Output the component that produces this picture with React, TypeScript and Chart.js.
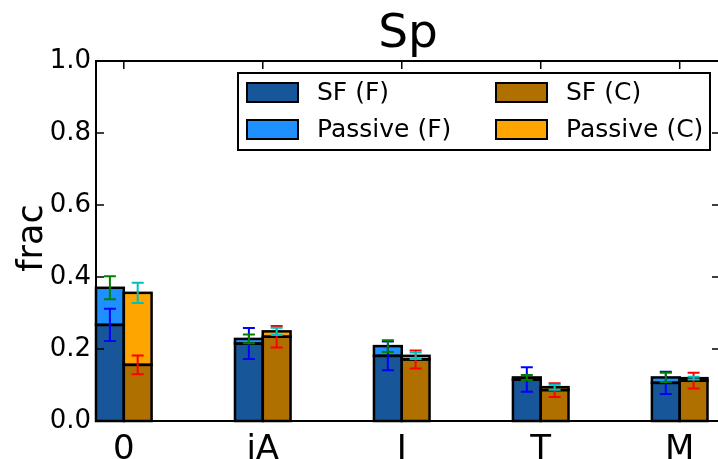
import { useEffect, useRef } from 'react';
import { Chart, registerables } from 'chart.js';

Chart.register(...registerables);

// Categories along the x axis
const categories = ['0', 'iA', 'I', 'T', 'M'];

// Stacked fractions: star-forming part and passive part, field (F) and cluster (C)
const sfF = [0.267, 0.215, 0.181, 0.115, 0.106];
const passiveF = [0.103, 0.013, 0.027, 0.006, 0.015];
const sfC = [0.156, 0.234, 0.171, 0.086, 0.112];
const passiveC = [0.2, 0.015, 0.01, 0.008, 0.007];

// Uncertainties on the SF fraction and on the total (SF + passive) fraction
const sfFErr = [0.045, 0.043, 0.04, 0.034, 0.031];
const totFErr = [0.032, 0.012, 0.016, 0.007, 0.013];
const sfCErr = [0.026, 0.03, 0.025, 0.019, 0.022];
const totCErr = [0.028, 0.01, 0.009, 0.007, 0.004];

const yTicks = [0, 0.2, 0.4, 0.6, 0.8, 1.0];

const COL_SF_F = '#175699';
const COL_PAS_F = '#1e90ff';
const COL_SF_C = '#b07000';
const COL_PAS_C = '#ffa500';

const FONT = '"DejaVu Sans", sans-serif';
const BAR_OFFSET = 0.1;

const framePlugin = {
  id: 'frame',
  afterDatasetsDraw(chart: any) {
    const ctx = chart.ctx as CanvasRenderingContext2D;
    const xs = chart.scales.x;
    const ys = chart.scales.y;

    // black outlines centred on each bar's edges
    ctx.save();
    ctx.strokeStyle = '#000';
    ctx.lineWidth = 2.5;
    chart.data.datasets.forEach((_: any, di: number) => {
      const meta = chart.getDatasetMeta(di);
      meta.data.forEach((bar: any) => {
        const { x, y, base, width } = bar.getProps(['x', 'y', 'base', 'width'], true);
        const top = Math.min(y, base);
        const h = Math.abs(base - y);
        ctx.strokeRect(x - width / 2, top, width, h);
      });
    });
    ctx.restore();

    const cap = 6;
    const drawErr = (xv: number, yv: number, err: number, color: string) => {
      const px = xs.getPixelForValue(xv);
      const y0 = ys.getPixelForValue(yv - err);
      const y1 = ys.getPixelForValue(yv + err);
      ctx.save();
      ctx.strokeStyle = color;
      ctx.lineWidth = 2;
      ctx.beginPath();
      ctx.moveTo(px, y0);
      ctx.lineTo(px, y1);
      ctx.moveTo(px - cap, y0);
      ctx.lineTo(px + cap, y0);
      ctx.moveTo(px - cap, y1);
      ctx.lineTo(px + cap, y1);
      ctx.stroke();
      ctx.restore();
    };
    categories.forEach((_, i) => {
      drawErr(i - BAR_OFFSET, sfF[i], sfFErr[i], '#0000ff');
      drawErr(i - BAR_OFFSET, sfF[i] + passiveF[i], totFErr[i], '#008000');
      drawErr(i + BAR_OFFSET, sfC[i], sfCErr[i], '#ff0000');
      drawErr(i + BAR_OFFSET, sfC[i] + passiveC[i], totCErr[i], '#00bfbf');
    });
  },
  afterDraw(chart: any) {
    const ctx = chart.ctx as CanvasRenderingContext2D;
    const a = chart.chartArea;
    const xs = chart.scales.x;
    const ys = chart.scales.y;
    ctx.save();
    // frame
    ctx.strokeStyle = '#000';
    ctx.lineWidth = 2;
    ctx.strokeRect(a.left, a.top, a.right - a.left, a.bottom - a.top);
    // inward ticks on all four sides
    const tl = 8;
    ctx.lineWidth = 1.5;
    ctx.beginPath();
    yTicks.forEach((v) => {
      const py = ys.getPixelForValue(v);
      ctx.moveTo(a.left, py);
      ctx.lineTo(a.left + tl, py);
      ctx.moveTo(a.right, py);
      ctx.lineTo(a.right - tl, py);
    });
    categories.forEach((_, i) => {
      const px = xs.getPixelForValue(i);
      ctx.moveTo(px, a.top);
      ctx.lineTo(px, a.top + tl);
      ctx.moveTo(px, a.bottom);
      ctx.lineTo(px, a.bottom - tl);
    });
    ctx.stroke();

    // title
    ctx.fillStyle = '#000';
    ctx.font = `47px ${FONT}`;
    ctx.textAlign = 'center';
    ctx.textBaseline = 'alphabetic';
    ctx.fillText('Sp', (a.left + a.right) / 2, 47);

    // y axis label
    ctx.save();
    ctx.translate(42, (a.top + a.bottom) / 2 - 3);
    ctx.rotate(-Math.PI / 2);
    ctx.font = `35px ${FONT}`;
    ctx.textAlign = 'center';
    ctx.textBaseline = 'alphabetic';
    ctx.fillText('frac', 0, 0);
    ctx.restore();

    // legend
    const lx = 238, ly = 73, lw = 472, lh = 77;
    ctx.fillStyle = '#fff';
    ctx.fillRect(lx, ly, lw, lh);
    ctx.lineWidth = 2;
    ctx.strokeStyle = '#000';
    ctx.strokeRect(lx, ly, lw, lh);
    const entries = [
      { label: 'SF (F)', color: COL_SF_F, x: 247, y: 83 },
      { label: 'Passive (F)', color: COL_PAS_F, x: 247, y: 120 },
      { label: 'SF (C)', color: COL_SF_C, x: 496, y: 83 },
      { label: 'Passive (C)', color: COL_PAS_C, x: 496, y: 120 },
    ];
    ctx.font = `25px ${FONT}`;
    ctx.textAlign = 'left';
    ctx.textBaseline = 'middle';
    entries.forEach((e) => {
      ctx.fillStyle = e.color;
      ctx.fillRect(e.x, e.y, 51, 19);
      ctx.strokeStyle = '#000';
      ctx.lineWidth = 2;
      ctx.strokeRect(e.x, e.y, 51, 19);
      ctx.fillStyle = '#000';
      ctx.fillText(e.label, e.x + 70, e.y + 10);
    });
    ctx.restore();
  },
};

export default function App() {
  const ref = useRef<HTMLCanvasElement | null>(null);

  useEffect(() => {
    if (!ref.current) return;
    const mk = (vals: number[]) => vals.map((v, i) => ({ x: i, y: v }));
    const common = {
      borderWidth: 0,
      inflateAmount: 0,
      categoryPercentage: 0.4,
      barPercentage: 1.0,
    };
    const chart = new Chart(ref.current, {
      type: 'bar',
      data: {
        datasets: [
          { ...common, label: 'SF (F)', data: mk(sfF), backgroundColor: COL_SF_F, stack: 'F' },
          { ...common, label: 'Passive (F)', data: mk(passiveF), backgroundColor: COL_PAS_F, stack: 'F' },
          { ...common, label: 'SF (C)', data: mk(sfC), backgroundColor: COL_SF_C, stack: 'C' },
          { ...common, label: 'Passive (C)', data: mk(passiveC), backgroundColor: COL_PAS_C, stack: 'C' },
        ] as any,
      },
      options: {
        responsive: false,
        animation: false,
        devicePixelRatio: 1,
        layout: { padding: { left: 0, right: 20, top: 61, bottom: 0 } },
        plugins: { legend: { display: false }, tooltip: { enabled: false }, title: { display: false } },
        scales: {
          x: {
            type: 'linear',
            min: -0.2,
            max: 4.29,
            offset: false,
            stacked: true,
            grid: { display: false, drawTicks: false },
            border: { display: false },
            afterBuildTicks: (s: any) => {
              s.ticks = categories.map((_, i) => ({ value: i }));
            },
            afterFit: (s: any) => {
              s.height = 38;
            },
            ticks: {
              autoSkip: false,
              maxRotation: 0,
              padding: 9,
              color: '#000',
              font: { family: FONT, size: 34 },
              callback: (v: any) => categories[Math.round(Number(v))] ?? '',
            },
          },
          y: {
            min: 0,
            max: 1,
            stacked: true,
            grid: { display: false, drawTicks: false },
            border: { display: false },
            afterBuildTicks: (s: any) => {
              s.ticks = yTicks.map((v) => ({ value: v }));
            },
            afterFit: (s: any) => {
              s.width = 96;
            },
            ticks: {
              padding: 5,
              color: '#000',
              font: { family: FONT, size: 26 },
              callback: (v: any) => Number(v).toFixed(1),
            },
          },
        },
      } as any,
      plugins: [framePlugin],
    });
    return () => chart.destroy();
  }, []);

  return (
    <div
      style={{
        position: 'fixed',
        left: 0,
        top: 0,
        width: 718,
        height: 459,
        overflow: 'hidden',
        background: '#fff',
      }}
    >
      <canvas ref={ref} width={740} height={459} style={{ width: 740, height: 459, display: 'block' }} />
    </div>
  );
}
